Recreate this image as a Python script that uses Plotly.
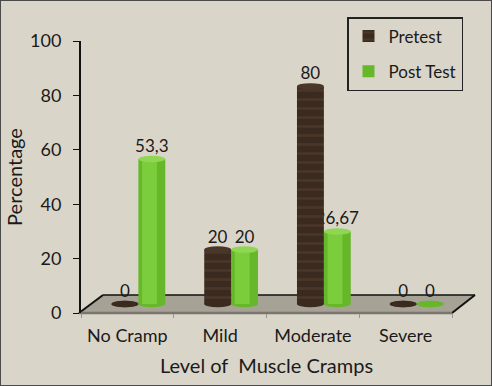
import plotly.graph_objects as go

categories = ["No Cramp", "Mild", "Moderate", "Severe"]
pretest = [0, 20, 80, 0]
posttest = [53.3, 20, 26.67, 0]
y_ticks = [0, 20, 40, 60, 80, 100]

W, H = 492, 386
FONT = "Lato"
PRE = "#3b2a1f"
POST = "#66b82a"
POST_HI = "#7ccd3c"

def px(x, y):
    return x / W, 1 - y / H

def fmt(v):
    return f"{v:g}".replace(".", ",")

idx = list(range(len(categories)))
bw = 0.29
# 3D depth offset: bars stand on the back of the floor, labels/ticks on the front
shift_x = 11 / 92.75
shift_y = 9 / 2.72

fig = go.Figure()
# Post test first so the pretest cylinder hides part of its label (as in the 3D original)
fig.add_trace(go.Bar(
    x=idx, y=posttest, name="Post Test",
    offset=0, width=bw, marker=dict(color=POST, line=dict(width=0)),
    text=[fmt(v) for v in posttest], textposition="outside", constraintext="none",
    textfont=dict(size=17, color="#1a1a1a", family=FONT),
    cliponaxis=False, legendrank=2, legendgroup="b", hoverinfo="skip",
))
fig.add_trace(go.Bar(
    x=idx, y=posttest, showlegend=False,
    offset=0.04, width=bw * 0.55, marker=dict(color=POST_HI, line=dict(width=0)),
    hoverinfo="skip", legendgroup="b",
))
fig.add_trace(go.Bar(
    x=idx, y=pretest, name="Pretest",
    offset=-bw, width=bw,
    marker=dict(color=PRE, line=dict(width=0),
                pattern=dict(shape="-", fgcolor="#57412f", size=9, solidity=0.3)),
    text=[fmt(v) for v in pretest], textposition="outside", constraintext="none",
    textfont=dict(size=17, color="#1a1a1a", family=FONT),
    cliponaxis=False, legendrank=1, legendgroup="a", hoverinfo="skip",
))

shapes = []
# floor (decoration)
c = [px(79, 313), px(103, 295), px(475, 295), px(452, 313)]
path = "M {} {} L {} {} L {} {} L {} {} Z".format(*[v for p in c for v in p])
shapes.append(dict(type="path", xref="paper", yref="paper", path=path,
                   fillcolor="#a7a296", line=dict(width=0), layer="below"))
for (a, b, col, w) in [((103, 295), (475, 295), "#111111", 1.5),
                       ((79, 313), (103, 295), "#111111", 2),
                       ((475, 295), (452, 313), "#111111", 2),
                       ((79, 313), (452, 313), "#7a766d", 2.5)]:
    x0, y0 = px(*a); x1, y1 = px(*b)
    shapes.append(dict(type="line", xref="paper", yref="paper", x0=x0, y0=y0,
                       x1=x1, y1=y1, line=dict(color=col, width=w), layer="below"))

# cylinder bottoms and tops
eh = 1.2
for i in idx:
    for off, v, col, cap in [(-bw, pretest[i], PRE, "#4a372a"), (0, posttest[i], POST, "#8fd653")]:
        shapes.append(dict(type="circle", xref="x", yref="y", x0=i + off, x1=i + off + bw,
                           y0=-eh, y1=eh, fillcolor=col, line=dict(width=0), layer="below"))
        shapes.append(dict(type="circle", xref="x", yref="y", x0=i + off, x1=i + off + bw,
                           y0=v - eh, y1=v + eh, fillcolor=cap if v > 0 else col,
                           line=dict(width=0), layer="above"))

# outer border
shapes.append(dict(type="rect", xref="paper", yref="paper", x0=0, y0=0, x1=1, y1=1,
                   line=dict(color="#4a4a4a", width=2)))

xd = [81 / W, 452 / W]
yd = [1 - 313 / H, 1 - 41 / H]

fig.update_layout(
    width=W, height=H,
    margin=dict(l=0, r=0, t=0, b=0),
    paper_bgcolor="#dad5c9", plot_bgcolor="rgba(0,0,0,0)",
    font=dict(family=FONT, size=17, color="#1a1a1a"),
    barmode="overlay",
    shapes=shapes,
    xaxis=dict(domain=xd, range=[-0.5 - shift_x, 3.5 - shift_x], automargin=False,
               tickvals=[i - shift_x for i in idx], ticktext=categories,
               tickfont=dict(size=18),
               ticks="", showline=False, showgrid=False, zeroline=False,
               ticklabelstandoff=10,
               minor=dict(ticks="outside", ticklen=4, tickcolor="#9a968c",
                          tick0=0.5 - shift_x, dtick=1, showgrid=False),
               title=dict(text="Level of  Muscle Cramps", standoff=13)),
    yaxis=dict(domain=yd, range=[-shift_y, 100 - shift_y], automargin=False,
               tickvals=[t - shift_y for t in y_ticks], ticktext=[str(t) for t in y_ticks],
               tickfont=dict(size=18),
               ticks="outside", ticklen=6,
               tickcolor="#111111", showline=True, linecolor="#111111", linewidth=2,
               showgrid=False, zeroline=False, ticklabelstandoff=8,
               title=dict(text="Percentage", standoff=2)),
    legend=dict(x=347 / W, y=1 - 17 / H, xanchor="left", yanchor="top",
                bgcolor="rgba(0,0,0,0)", bordercolor="#222222", borderwidth=1.5,
                traceorder="grouped", tracegroupgap=10, itemwidth=30,
                font=dict(size=17)),
    showlegend=True,
)

fig.write_html("out.html", config={"displayModeBar": False},
               post_script="document.body.style.margin='0';document.body.style.overflow='hidden';")
